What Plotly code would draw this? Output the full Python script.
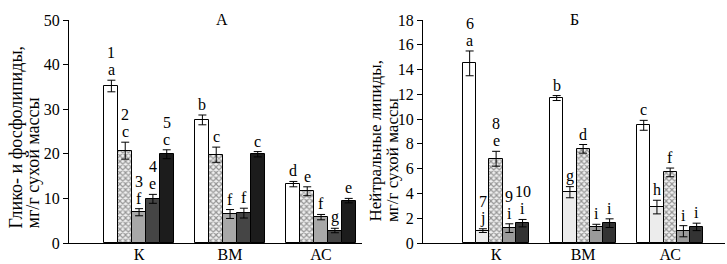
import plotly.graph_objects as go

categories = ["К", "ВМ", "АС"]

# Panel A: glyco- and phospholipids (series 1..5)
a_vals = [
    [35.2, 27.6, 13.2],
    [20.7, 19.8, 11.6],
    [6.9, 6.5, 5.8],
    [9.9, 6.7, 2.8],
    [19.9, 19.9, 9.5],
]
a_errs = [
    [1.3, 1.1, 0.6],
    [1.9, 1.7, 1.0],
    [0.8, 1.0, 0.6],
    [1.0, 1.1, 0.5],
    [1.0, 0.6, 0.5],
]
a_letters = [
    ["a", "b", "d"],
    ["c", "c", "e"],
    ["f", "f", "f"],
    ["e", "f", "g"],
    ["c", "c", "e"],
]
a_numbers = ["1", "2", "3", "4", "5"]
a_ytitle = ["Глико- и фосфолипиды,", "мг/г сухой массы"]

# Panel B: neutral lipids (series 6..10)
b_vals = [
    [14.5, 11.7, 9.5],
    [1.0, 4.1, 2.9],
    [6.8, 7.6, 5.7],
    [1.2, 1.26, 0.95],
    [1.6, 1.6, 1.3],
]
b_errs = [
    [1.0, 0.2, 0.4],
    [0.15, 0.45, 0.55],
    [0.6, 0.35, 0.35],
    [0.35, 0.25, 0.45],
    [0.3, 0.35, 0.3],
]
b_letters = [
    ["a", "b", "c"],
    ["j", "g", "h"],
    ["e", "d", "f"],
    ["i", "i", "i"],
    ["i", "i", "i"],
]
b_numbers = ["6", "7", "8", "9", "10"]
b_ytitle = ["Нейтральные липиды,", "мг/г сухой массы"]

FONT = "Liberation Serif, Times New Roman, serif"
W = 0.152

hatch = dict(shape="x", fgcolor="#3a3a3a", bgcolor="#f0f0f0", size=4, solidity=0.5)
a_styles = [
    dict(color="white"),
    dict(color="white", pattern=hatch),
    dict(color="#a8a8a8"),
    dict(color="#454545"),
    dict(color="#1c1c1c"),
]
b_styles = [
    dict(color="white"),
    dict(color="#ececec"),
    dict(color="white", pattern=hatch),
    dict(color="#9a9a9a"),
    dict(color="#333333"),
]

fig = go.Figure()
annotations = []


def add_panel(vals, errs, letters, numbers, styles, xref, yref):
    for i in range(5):
        off = (i - 2.5) * W
        fig.add_trace(go.Bar(
            x=[0, 1, 2], y=vals[i], width=W, offset=off,
            marker=dict(**styles[i], line=dict(color="black", width=1)),
            error_y=dict(type="data", array=errs[i], color="black", thickness=1, width=4),
            xaxis=xref, yaxis=yref, showlegend=False,
        ))
        for j in range(3):
            xc = j + off + W / 2
            top = vals[i][j] + errs[i][j]
            annotations.append(dict(
                x=xc, y=top, xref=xref, yref=yref, text=letters[i][j],
                showarrow=False, yanchor="bottom", yshift=0,
                font=dict(family=FONT, size=16, color="black"),
            ))
            if j == 0:
                annotations.append(dict(
                    x=xc, y=top, xref=xref, yref=yref, text=numbers[i],
                    showarrow=False, yanchor="bottom", yshift=17,
                    font=dict(family=FONT, size=16, color="black"),
                ))


add_panel(a_vals, a_errs, a_letters, a_numbers, a_styles, "x", "y")
add_panel(b_vals, b_errs, b_letters, b_numbers, b_styles, "x2", "y2")

axis_common = dict(showgrid=False, zeroline=False, showline=True, linecolor="black",
                   linewidth=1, automargin=False,
                   tickfont=dict(family=FONT, size=16, color="black"))
title_font = dict(family=FONT, size=18, color="black")

fig.update_layout(
    width=727, height=264,
    margin=dict(l=0, r=0, t=0, b=0),
    paper_bgcolor="white", plot_bgcolor="white",
    font=dict(family=FONT, color="black"),
    bargap=0,
    xaxis=dict(domain=[69 / 727, 362 / 727], range=[-0.77, 2.45], tickvals=[0, 1, 2],
               ticktext=categories, ticks="", anchor="y", ticklabelstandoff=-3, **axis_common),
    yaxis=dict(domain=[21 / 264, 244 / 264], range=[0, 50], tickvals=[0, 10, 20, 30, 40, 50],
               ticks="outside", ticklen=5, tickcolor="black", anchor="x", **axis_common),
    xaxis2=dict(domain=[423 / 727, 725 / 727], range=[-0.84, 2.63], tickvals=[0, 1, 2],
                ticktext=categories, ticks="", anchor="y2", ticklabelstandoff=-3, **axis_common),
    yaxis2=dict(domain=[21 / 264, 244 / 264], range=[0, 18], tickvals=list(range(0, 19, 2)),
                ticks="outside", ticklen=5, tickcolor="black", anchor="x2", **axis_common),
)

# rotated axis titles, each line bottom-aligned
for txt, xp in zip(a_ytitle, [15, 32]):
    annotations.append(dict(x=xp / 727, y=1 - 231 / 264, xref="paper", yref="paper",
                            text=txt, textangle=-90, showarrow=False,
                            xanchor="center", yanchor="bottom", font=title_font))
for txt, xp in zip(b_ytitle, [375, 392]):
    annotations.append(dict(x=xp / 727, y=1 - 224 / 264, xref="paper", yref="paper",
                            text=txt, textangle=-90, showarrow=False,
                            xanchor="center", yanchor="bottom",
                            font=dict(family=FONT, size=17, color="black")))

annotations.append(dict(x=214 / 727, y=1 - 9 / 264, xref="paper", yref="paper", text="А",
                        showarrow=False, font=dict(family=FONT, size=16, color="black")))
annotations.append(dict(x=581 / 727, y=1 - 9 / 264, xref="paper", yref="paper", text="Б",
                        showarrow=False, font=dict(family=FONT, size=16, color="black")))
fig.update_layout(annotations=annotations)

fig.write_html("out.html", config={"displayModeBar": False},
               post_script="document.body.style.margin='0';document.body.style.padding='0';")
